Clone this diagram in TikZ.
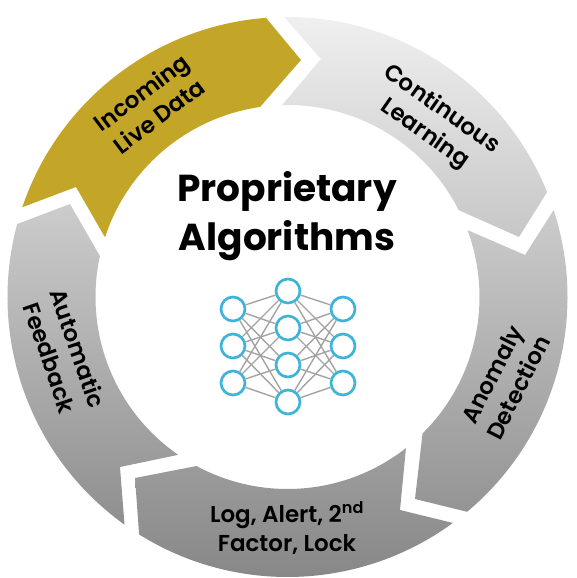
\documentclass[tikz,border=0pt]{standalone}
\usepackage{fontspec}
\setmainfont{Poppins}
\newfontfamily\labelfont{Poppins SemiBold}
\usetikzlibrary{calc}
\definecolor{segGold}{HTML}{C3A628}
\definecolor{nnBlue}{HTML}{3EB4D8}
\definecolor{nnEdge}{HTML}{A3A3A3}
\tikzset{
  segment/.style 2 args={top color=black!#1, bottom color=black!#2, draw=none},
  steplabel/.style={font=\labelfont\fontsize{23}{29.5}\selectfont, align=center, text=black},
  neuron/.style={circle, draw=nnBlue, line width=2.7pt, minimum size=24pt, inner sep=0pt},
  synapse/.style={draw=nnEdge, line width=1.4pt}
}
\begin{document}
\begin{tikzpicture}[x=1pt,y=1pt]
  \path[use as bounding box] (0,0) rectangle (577,578);
  \coordinate (C) at (287.5,281);
  \def\ro{280pt}
  \def\ri{192pt}

  % the gold segment
  \fill[segGold]
    ($(C)+(161.3:\ro)$) arc[start angle=161.3, end angle=94.4, radius=\ro]
    -- (301,518)
    -- ($(C)+(98.2:\ri)$) arc[start angle=98.2, end angle=161.9, radius=\ri]
    -- (76,391) -- cycle;

  % the four grey segments, one shade running down the whole ring
  \shade[segment={6}{22}]
    ($(C)+(90.7:\ro)$) arc[start angle=90.7, end angle=22, radius=\ro]
    -- (519,341)
    -- ($(C)+(26.9:\ri)$) arc[start angle=26.9, end angle=91.6, radius=\ri]
    -- (321,519) -- cycle;
  \shade[segment={20}{42}]
    ($(C)+(18.1:\ro)$) arc[start angle=18.1, end angle=-50.1, radius=\ro]
    -- (415,79)
    -- ($(C)+(-45.3:\ri)$) arc[start angle=-45.3, end angle=20.4, radius=\ri]
    -- (525,323) -- cycle;
  \shade[segment={38}{48}]
    ($(C)+(-53.8:\ro)$) arc[start angle=-53.8, end angle=-122, radius=\ro]
    -- (135,100)
    -- ($(C)+(-118.3:\ri)$) arc[start angle=-118.3, end angle=-51.9, radius=\ri]
    -- (400,68) -- cycle;
  \shade[segment={20}{44}]
    ($(C)+(234.4:\ro)$) arc[start angle=234.4, end angle=164.9, radius=\ro]
    -- (70,374)
    -- ($(C)+(167.7:\ri)$) arc[start angle=167.7, end angle=235.3, radius=\ri]
    -- (120,111) -- cycle;

  % labels on the ring
  \node[steplabel, rotate=37] (incoming) at (150,474) {Incoming\\Live Data};
  \node[steplabel, rotate=-35] (learning) at (433,456) {Continuous\\Learning};
  \node[steplabel, rotate=63] (anomaly) at (505,197) {Anomaly\\Detection};
  \node[steplabel] (logalert) at (287,50) {Log, Alert, 2\textsuperscript{nd}\\Factor, Lock};
  \node[steplabel, rotate=-71] (feedback) at (64,225) {Automatic\\Feedback};

  % title
  \node[font=\fontsize{37.5}{49.5}\selectfont\bfseries, align=center] (title) at (287,362)
    {Proprietary\\Algorithms};

  % the little network
  \foreach \i/\y in {1/269, 2/232, 3/195} {
    \node[neuron] (in-\i) at (233,\y) {};
    \node[neuron] (out-\i) at (343,\y) {};
  }
  \foreach \i/\y in {1/287, 2/250, 3/213, 4/176} {
    \node[neuron] (mid-\i) at (288,\y) {};
  }
  \foreach \i in {1,2,3} {
    \foreach \j in {1,2,3,4} {
      \draw[synapse] (in-\i) -- (mid-\j);
      \draw[synapse] (mid-\j) -- (out-\i);
    }
  }
\end{tikzpicture}
\end{document}
